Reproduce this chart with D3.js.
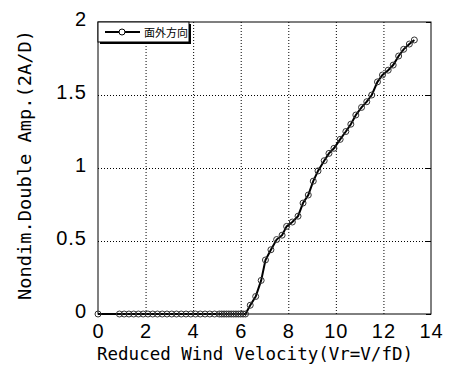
<!DOCTYPE html>
<html>
<head>
<meta charset="utf-8">
<script src="https://cdn.jsdelivr.net/npm/d3@7"></script>
<style>
  body { margin: 0; background: #fff; }
</style>
</head>
<body>
<div id="chart"></div>
<script>
// Vr values and amplitudes
const vr = [0, 0.9, 1.1, 1.3, 1.5, 1.7, 1.9, 2.1, 2.3, 2.5, 2.7, 2.9, 3.1, 3.3, 3.5, 3.7, 3.9, 4.1, 4.3, 4.5, 4.7, 4.9, 5.1,
  5.2, 5.3, 5.4, 5.5, 5.6, 5.7, 5.8, 5.9, 6.0, 6.1, 6.2,
  6.4, 6.63, 6.86, 7.04, 7.27, 7.51, 7.74, 7.93, 8.17, 8.41, 8.62, 8.84, 9.05, 9.25, 9.51, 9.71, 9.92,
  10.18, 10.42, 10.63, 10.84, 11.08, 11.3, 11.51, 11.75, 11.96, 12.2, 12.41, 12.64, 12.85, 13.09, 13.3];
const amp = [0, 0, 0, 0, 0, 0, 0, 0, 0, 0, 0, 0, 0, 0, 0, 0, 0, 0, 0, 0, 0, 0, 0,
  0, 0, 0, 0, 0, 0, 0, 0, 0, 0, 0,
  0.06, 0.12, 0.23, 0.37, 0.44, 0.51, 0.54, 0.6, 0.63, 0.67, 0.76, 0.815, 0.91, 0.98, 1.05, 1.1, 1.135,
  1.196, 1.25, 1.3, 1.363, 1.415, 1.454, 1.5, 1.59, 1.637, 1.67, 1.705, 1.767, 1.813, 1.849, 1.877];
const xTicks = [0, 2, 4, 6, 8, 10, 12, 14];
const yTicks = [0, 0.5, 1, 1.5, 2];
const seriesName = '面外方向';

const width = 454, height = 365;
const margin = {top: 22, right: 23, bottom: 51, left: 98};
const w = width - margin.left - margin.right;
const h = height - margin.top - margin.bottom;

const x = d3.scaleLinear().domain([0, 14]).range([0, w]);
const y = d3.scaleLinear().domain([0, 2]).range([h, 0]);

const svg = d3.select('#chart').append('svg')
  .attr('width', width)
  .attr('height', height);
const g = svg.append('g')
  .attr('transform', 'translate(' + margin.left + ',' + margin.top + ')');

// grid
g.append('g')
  .attr('transform', 'translate(0,' + h + ')')
  .call(d3.axisBottom(x).tickValues(xTicks.slice(1, -1)).tickSize(-h).tickFormat(''))
  .call(a => a.select('.domain').remove())
  .selectAll('line').attr('stroke', '#000').attr('stroke-dasharray', '1,2');
g.append('g')
  .call(d3.axisLeft(y).tickValues(yTicks.slice(1, -1)).tickSize(-w).tickFormat(''))
  .call(a => a.select('.domain').remove())
  .selectAll('line').attr('stroke', '#000').attr('stroke-dasharray', '1,2');

// inner ticks on right side
g.append('g')
  .attr('transform', 'translate(' + w + ',0)')
  .call(d3.axisLeft(y).tickValues(yTicks).tickSize(5).tickFormat(''))
  .call(a => a.select('.domain').remove());

// frame
g.append('rect')
  .attr('width', w).attr('height', h)
  .attr('fill', 'none').attr('stroke', '#000').attr('stroke-width', 1);

// tick labels
const xAxis = g.append('g')
  .attr('transform', 'translate(0,' + h + ')')
  .call(d3.axisBottom(x).tickValues(xTicks).tickSize(0).tickPadding(10));
xAxis.select('.domain').remove();
xAxis.selectAll('text')
  .attr('font-family', 'Liberation Sans, Arial, sans-serif')
  .attr('font-size', 20).attr('letter-spacing', 1).attr('fill', '#000');

const yAxis = g.append('g')
  .call(d3.axisLeft(y).tickValues(yTicks).tickSize(0).tickPadding(11).tickFormat(d3.format('')));
yAxis.select('.domain').remove();
yAxis.selectAll('text')
  .attr('font-family', 'Liberation Sans, Arial, sans-serif')
  .attr('font-size', 20).attr('letter-spacing', 1).attr('dy', '0.15em').attr('fill', '#000');

// data
const pts = vr.map((v, i) => ({x: v, y: amp[i]}));
g.append('path')
  .datum(pts)
  .attr('fill', 'none')
  .attr('stroke', '#000')
  .attr('stroke-width', 2)
  .attr('d', d3.line().x(d => x(d.x)).y(d => y(d.y)));
g.selectAll('.pt')
  .data(pts)
  .enter().append('circle')
  .attr('class', 'pt')
  .attr('cx', d => x(d.x))
  .attr('cy', d => y(d.y))
  .attr('r', 3)
  .attr('fill', 'none')
  .attr('stroke', '#333')
  .attr('stroke-width', 1);

// legend
const lg = svg.append('g').attr('transform', 'translate(98,22)');
lg.append('rect').attr('x', 2).attr('y', 2).attr('width', 91).attr('height', 20).attr('fill', '#000');
lg.append('rect').attr('x', 0).attr('y', 0).attr('width', 91).attr('height', 20)
  .attr('fill', '#fff').attr('stroke', '#000');
lg.append('line').attr('x1', 7).attr('x2', 42).attr('y1', 10).attr('y2', 10)
  .attr('stroke', '#000').attr('stroke-width', 2);
lg.append('circle').attr('cx', 24).attr('cy', 10).attr('r', 3)
  .attr('fill', '#fff').attr('stroke', '#000');
lg.append('text').attr('x', 46).attr('y', 14.5)
  .attr('font-family', 'Noto Sans CJK JP, sans-serif').attr('font-size', 11)
  .text(seriesName);

// axis titles
svg.append('text')
  .attr('x', 97).attr('y', 360)
  .attr('font-family', 'DejaVu Sans Mono, Liberation Mono, monospace')
  .attr('font-size', 17.5)
  .attr('textLength', 316).attr('lengthAdjust', 'spacingAndGlyphs')
  .text('Reduced Wind Velocity(Vr=V/fD)');

svg.append('g')
  .attr('transform', 'translate(31, 300)')
  .append('text')
  .attr('transform', 'rotate(-90)')
  .attr('font-family', 'DejaVu Sans Mono, Liberation Mono, monospace')
  .attr('font-size', 17.5)
  .attr('textLength', 270).attr('lengthAdjust', 'spacingAndGlyphs')
  .text('Nondim.Double Amp.(2A/D)');
</script>
</body>
</html>
